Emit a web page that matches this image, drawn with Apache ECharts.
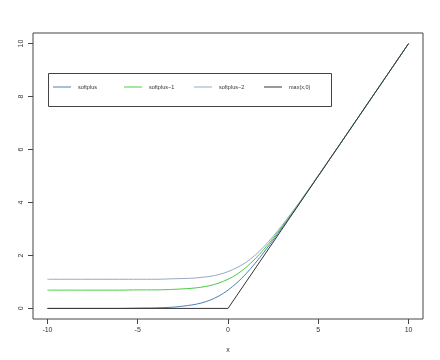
<!DOCTYPE html>
<html>
<head>
<meta charset="utf-8">
<script src="https://cdn.jsdelivr.net/npm/echarts@6/dist/echarts.min.js"></script>
<style>html,body{margin:0;padding:0;background:#fff}#c{width:440px;height:360px}</style>
</head>
<body>
<div id="c"></div>
<script>
var xs = [-10, -8, -6, -5, -4, -3, -2, -1.5, -1, -0.5, 0, 0.5, 1, 1.5, 2, 2.5, 3, 3.5, 4, 5, 6, 8, 10];
var softplus  = [0.00, 0.00, 0.00, 0.01, 0.02, 0.05, 0.13, 0.20, 0.31, 0.47, 0.69, 0.97, 1.31, 1.70, 2.13, 2.58, 3.05, 3.53, 4.02, 5.01, 6.00, 8.00, 10.00];
var softplus1 = [0.69, 0.69, 0.69, 0.70, 0.70, 0.72, 0.76, 0.80, 0.86, 0.96, 1.10, 1.29, 1.55, 1.87, 2.24, 2.65, 3.09, 3.56, 4.04, 5.01, 6.00, 8.00, 10.00];
var softplus2 = [1.10, 1.10, 1.10, 1.10, 1.10, 1.12, 1.14, 1.17, 1.21, 1.28, 1.39, 1.54, 1.74, 2.01, 2.34, 2.72, 3.14, 3.59, 4.05, 5.02, 6.01, 8.00, 10.00];
var reluX = [-10, 0, 10];
var reluY = [0, 0, 10];
var seriesNames = ['softplus', 'softplus\u22121', 'softplus\u22122', 'max(x,0)'];
var xTicks = [-10, -5, 0, 5, 10];
var yTicks = [0, 2, 4, 6, 8, 10];
var colors = ['#4a80b8', '#4ccc44', '#98a8c2', '#333333'];

function pairs(x, y) { return x.map(function (v, i) { return [v, y[i]]; }); }
var dataSets = [pairs(xs, softplus), pairs(xs, softplus1), pairs(xs, softplus2), pairs(reluX, reluY)];

var legendLeft = [53, 124, 194, 264];
var fontFam = 'Liberation Sans, Arial, sans-serif';
var legends = seriesNames.map(function (n, i) {
  return {
    left: legendLeft[i], top: 84,
    data: [n], icon: 'rect', itemWidth: 18, itemHeight: 1,
    padding: 0, selectedMode: false,
    textStyle: {fontFamily: fontFam, fontSize: 5.5, color: '#333', padding: [0, 0, 0, 2]}
  };
});

var chart = echarts.init(document.getElementById('c'), null, {renderer: 'canvas'});
chart.setOption({
  animation: false,
  backgroundColor: '#fff',
  grid: {left: 33, right: 17, top: 33, bottom: 41, show: true, borderColor: '#444', borderWidth: 1},
  legend: legends,
  graphic: [{
    type: 'rect', left: 46, top: 71, z: 100,
    shape: {width: 283, height: 33},
    style: {fill: null, stroke: '#444', lineWidth: 1}
  }],
  xAxis: {
    type: 'value', min: -10.8, max: 10.8,
    name: 'x', nameLocation: 'middle', nameGap: 28,
    nameTextStyle: {fontFamily: fontFam, fontSize: 7, color: '#333'},
    axisLine: {show: false, onZero: false},
    axisTick: {show: true, inside: false, length: 5, customValues: xTicks, lineStyle: {color: '#444'}},
    axisLabel: {show: true, customValues: xTicks, margin: 8, fontFamily: fontFam, fontSize: 7, color: '#333'},
    splitLine: {show: false}
  },
  yAxis: {
    type: 'value', min: -0.4, max: 10.4,
    axisLine: {show: false, onZero: false},
    axisTick: {show: true, inside: false, length: 5, customValues: yTicks, lineStyle: {color: '#444'}},
    axisLabel: {show: true, customValues: yTicks, rotate: 90, margin: 8, fontFamily: fontFam, fontSize: 7, color: '#333'},
    splitLine: {show: false}
  },
  series: seriesNames.map(function (n, i) {
    return {
      name: n, type: 'line', data: dataSets[i], smooth: i < 3 ? 0.3 : false,
      symbol: 'none', showSymbol: false,
      lineStyle: {color: colors[i], width: 1}, itemStyle: {color: colors[i]},
      z: 2 + i
    };
  })
});
</script>
</body>
</html>
